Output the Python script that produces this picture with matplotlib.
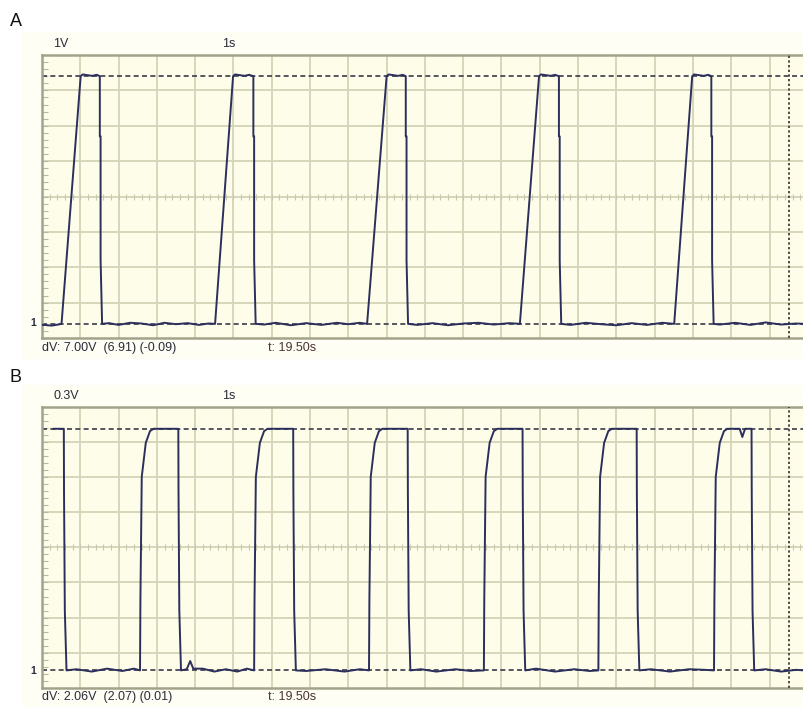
import numpy as np
import matplotlib
matplotlib.use("Agg")
import matplotlib.pyplot as plt
from matplotlib.patches import Rectangle

plt.rcParams["font.family"] = ["Liberation Sans", "DejaVu Sans"]

# ---- data read from the scope screens (time in s, voltage in V) ----
# panel A: 1 V/div, 1 s/div, ramp-up pulses
a_rise_start = [0.51, 4.52, 8.49, 12.48, 16.51]
a_rise_top = [1.01, 4.99, 9.00, 12.98, 16.98]
a_fall = [1.51, 5.52, 9.50, 13.50, 17.48]
a_high = 7.0
a_top_dt = [0.05, 0.18, 0.30, 0.42]
a_top_v = [7.05, 7.03, 7.01, 7.04]
a_fall_dt = [0.0, 0.0, 0.02, 0.02, 0.06]
a_fall_v = [7.0, 5.3, 5.3, 1.8, 0.0]
a_noise_t = [0.05, 0.25, 0.42, 1.75, 2.0, 2.3, 2.6, 2.9, 3.2, 3.5, 3.8, 4.1, 4.35,
             5.8, 6.1, 6.5, 6.9, 7.3, 7.7, 8.0, 8.3, 9.8, 10.2, 10.6, 11.0, 11.4,
             11.8, 12.2, 13.8, 14.2, 14.6, 15.0, 15.4, 15.8, 16.2, 17.7, 18.1,
             18.5, 18.9, 19.3, 19.7]
a_noise_v = [-0.03, -0.05, -0.02, 0.02, -0.03, 0.03, 0.01, -0.04, 0.03, -0.01, 0.02,
             -0.03, 0.01, -0.02, 0.03, -0.04, 0.02, -0.03, 0.03, -0.01, 0.03, -0.03,
             0.02, -0.04, 0.01, 0.03, -0.02, 0.02, -0.03, 0.03, -0.01, -0.04, 0.02,
             -0.03, 0.03, -0.02, 0.03, -0.03, 0.04, -0.02, 0.01]

# panel B: 0.3 V/div, 1 s/div, square pulses
b_start = 0.30
b_rise = [2.56, 5.54, 8.54, 11.54, 14.53, 17.55]
b_fall = [0.57, 3.56, 6.56, 9.55, 12.55, 15.53, 18.53]
b_high = 2.06
b_rise_dt = [0.0, 0.01, 0.045, 0.15, 0.26]
b_rise_v = [0.0, 0.6, 1.65, 1.94, 2.04]
b_fall_dt = [0.0, 0.005, 0.026, 0.07]
b_fall_v = [2.06, 1.53, 0.51, 0.0]
b_noise_t = [0.9, 1.3, 1.7, 2.1, 2.4, 3.78, 3.87, 3.95, 4.2, 4.5, 4.8, 5.1, 5.35,
             6.9, 7.4, 7.9, 8.3, 9.9, 10.3, 10.8, 11.2, 12.9, 13.4, 13.9, 14.3,
             15.9, 16.4, 16.9, 17.3, 18.22, 18.29, 18.36, 18.9, 19.3, 19.7]
b_noise_v = [0.01, -0.01, 0.015, -0.005, 0.015, 0.01, 0.08, 0.015, 0.015, -0.01, 0.01,
             -0.01, 0.015, -0.005, 0.01, -0.01, 0.01, 0.01, -0.01, 0.01, -0.005,
             0.015, -0.01, 0.01, -0.005, 0.01, -0.01, 0.01, 0.005,
             2.06, 1.99, 2.06, 0.01, -0.01, 0.005]

cursor_t = 19.5
t_end = 19.9

BG = "#FDFDEA"
GRID = "#D4D4B8"
SPINE = "#A3A38A"
TRACE = "#2C2F5C"
DASH = "#3A3A48"
TEXT = "#2B2B3A"


def trace_a():
    pts = [(0.0, -0.03)]
    for rs, rt, f in zip(a_rise_start, a_rise_top, a_fall):
        pts.append((rs, 0.0))
        pts.append((rt, a_high))
        pts += [(rt + dt, v) for dt, v in zip(a_top_dt, a_top_v)]
        pts += [(f + dt, v) for dt, v in zip(a_fall_dt, a_fall_v)]
    pts += list(zip(a_noise_t, a_noise_v))
    pts.append((t_end, 0.0))
    pts.sort(key=lambda p: p[0])
    return np.array(pts).T


def trace_b():
    pts = [(b_start, b_high)]
    for f in b_fall:
        pts += [(f + dt, v) for dt, v in zip(b_fall_dt, b_fall_v)]
    for r in b_rise:
        pts += [(r + dt, v) for dt, v in zip(b_rise_dt, b_rise_v)]
        pts.append((r + 0.35, b_high))
    pts += list(zip(b_noise_t, b_noise_v))
    pts.append((t_end, 0.0))
    pts.sort(key=lambda p: (p[0], -p[1]))
    return np.array(pts).T


def scope_axes(fig, rect, ylo, vdiv):
    ax = fig.add_axes(rect)
    ax.set_zorder(2)
    ax.set_facecolor(BG)
    ax.set_xlim(0, t_end)
    ax.set_ylim(ylo, ylo + 8 * vdiv)
    for k in range(1, 20):
        ax.axvline(k, color=GRID, lw=1.3, zorder=1)
    for k in range(1, 8):
        ax.axhline(ylo + k * vdiv, color=GRID, lw=1.3, zorder=1)
    # little ticks on the centre line and on the left edge
    mid = ylo + 4 * vdiv
    xt = np.arange(0.2, t_end, 0.2)
    ax.plot(xt, np.full(len(xt), mid), ls="none", marker="|", ms=4, mew=0.8,
            color="#C8C8AE", zorder=1)
    ax.set_yticks(ylo + np.arange(0, 8.01, 0.2) * vdiv, minor=True)
    ax.tick_params(axis="y", which="minor", direction="in", length=4, width=0.8,
                   color="#B8B8A0", labelleft=False)
    ax.set_yticks([])
    ax.set_xticks([])
    for s in ["left", "top", "bottom"]:
        ax.spines[s].set_color(SPINE)
        ax.spines[s].set_linewidth(1.8)
    ax.spines["right"].set_visible(False)
    ax.axvline(cursor_t, color="#5A4848", lw=1.4, ls=(0, (1.2, 1.2)), zorder=3)
    return ax


fig = plt.figure(figsize=(8.04, 7.07), dpi=100)
W, H = 804, 707


def ftext(x, y, s, size, **kw):
    fig.text(x / W, 1 - y / H, s, fontsize=size, va="center", ha="left",
             color=kw.pop("color", TEXT), zorder=5, **kw)


# cream backdrop of the scope windows
fig.patches.append(Rectangle((22 / W, 1 - 358 / H), 782 / W, 326 / H,
                             transform=fig.transFigure, color="#FEFEF5", zorder=-5))
fig.patches.append(Rectangle((22 / W, 1 - 707 / H), 782 / W, 322 / H,
                             transform=fig.transFigure, color="#FEFEF5", zorder=-5))

ax_a = scope_axes(fig, [42 / W, 1 - 338 / H, (W - 42) / W, 283 / H], -0.4, 1.0)
ta, va = trace_a()
ax_a.axhline(0.0, color=DASH, lw=1.2, ls=(0, (3, 2)), zorder=2)
ax_a.axhline(a_high, color=DASH, lw=1.2, ls=(0, (3, 2)), zorder=2)
ax_a.plot(ta, va, color=TRACE, lw=1.4, zorder=4)

ax_b = scope_axes(fig, [42 / W, 1 - 688 / H, (W - 42) / W, 281.5 / H], -0.15, 0.3)
tb, vb = trace_b()
ax_b.axhline(0.0, color=DASH, lw=1.2, ls=(0, (3, 2)), zorder=2)
ax_b.axhline(b_high, color=DASH, lw=1.2, ls=(0, (3, 2)), zorder=2)
ax_b.plot(tb, vb, color=TRACE, lw=1.4, zorder=4)

ftext(10, 21, "A", 13, color="#111111")
ftext(53, 44, "1V", 9)
ftext(222, 44, "1s", 9)
ftext(30, 323, "1", 7.5, fontweight="bold")
ftext(42, 348, "dV: 7.00V  (6.91) (-0.09)", 9)
ftext(268, 348, "t: 19.50s", 9, color="#4A3434")

ftext(10, 377, "B", 13, color="#111111")
ftext(53, 396, "0.3V", 9)
ftext(222, 396, "1s", 9)
ftext(30, 671, "1", 7.5, fontweight="bold")
ftext(42, 697, "dV: 2.06V  (2.07) (0.01)", 9)
ftext(268, 697, "t: 19.50s", 9, color="#4A3434")

fig.savefig("out.png", dpi=100)
